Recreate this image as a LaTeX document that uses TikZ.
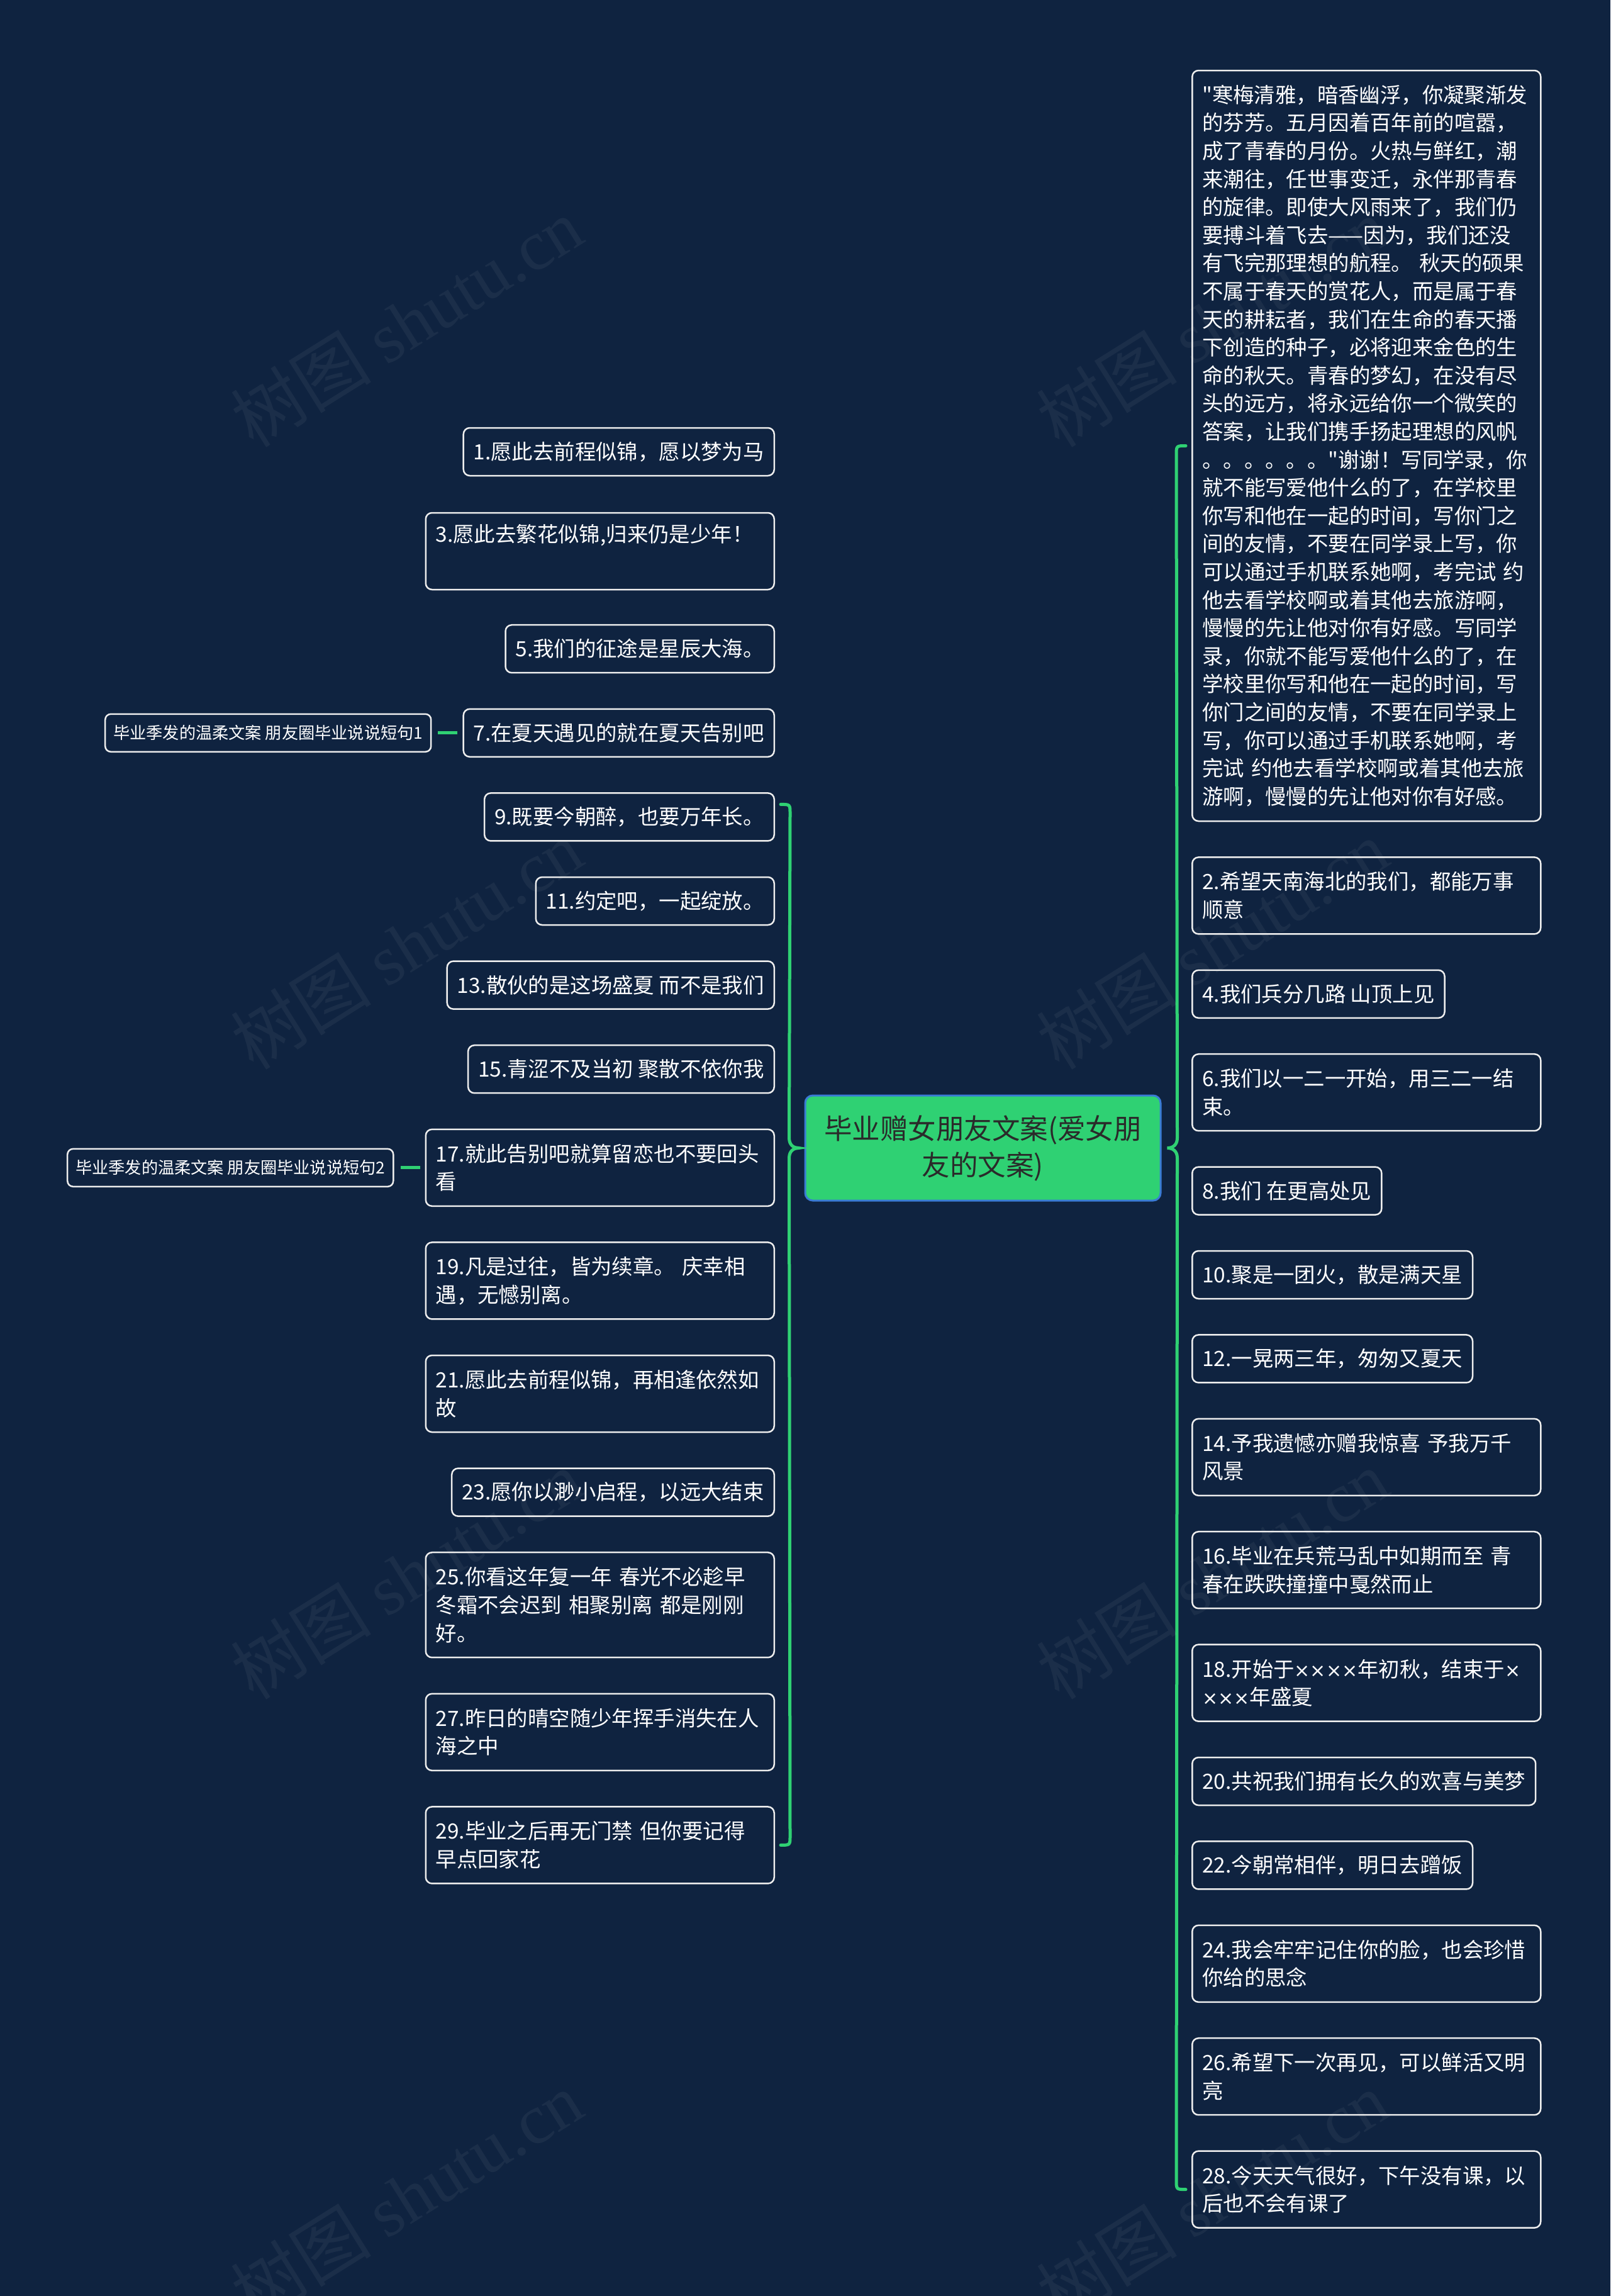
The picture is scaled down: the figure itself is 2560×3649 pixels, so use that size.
\documentclass[tikz,border=0pt]{standalone}
\usepackage{fontspec}
\newfontfamily\cjkfont{Noto Sans CJK SC}
\newfontfamily\wmserif{Liberation Serif}
\newfontfamily\dvsans{DejaVu Sans}
\newcommand{\tms}{{\dvsans\fontsize{30}{44.6}\selectfont ×}}
\usetikzlibrary{calc}
\definecolor{bg}{HTML}{0F2340}
\definecolor{boxc}{HTML}{EEEEEE}
\definecolor{lgreen}{HTML}{2FD173}
\definecolor{rootblue}{HTML}{3A7BD5}
\definecolor{roottext}{HTML}{2A2A2A}
\tikzset{
  bx/.style={draw=boxc, line width=2.5pt, rounded corners=10pt, fill=bg, text=white,
    font=\cjkfont\fontsize{33.4}{44.6}\selectfont, inner xsep=16pt, inner ysep=0pt,
    minimum height=76pt, align=left},
  bxtwo/.style={bx, text width=522pt, minimum height=122pt},
  bxthree/.style={bx, text width=522pt, minimum height=167pt},
  smallbox/.style={draw=boxc, line width=2.5pt, rounded corners=9pt, fill=bg, text=white,
    font=\cjkfont\fontsize{26.2}{32}\selectfont, inner xsep=13pt, inner ysep=0pt, minimum height=60pt},
  rootbox/.style={draw=rootblue, line width=3pt, rounded corners=12pt, fill=lgreen, text=roottext,
    font=\cjkfont\fontsize{44.5}{58}\selectfont, align=center, minimum width=565pt, minimum height=167pt,
    inner sep=0pt},
  brace/.style={draw=lgreen, line width=5pt, line cap=round},
  link/.style={draw=lgreen, line width=5pt, shorten <=10pt, shorten >=8pt},
  wm/.style={text=white, opacity=0.05, font=\cjkfont\fontsize{112}{112}\selectfont, rotate=32, inner sep=0pt}
}
\begin{document}
\begin{tikzpicture}[x=1pt, y=-1pt]
\useasboundingbox (0,0) rectangle (2560,3649);
\fill[bg] (0,0) rectangle (2560,3649);

% central node
\node[rootbox] (root) at (1562.5,1824.5) {毕业赠女朋友文案(爱女朋\\友的文案)};

% left nodes
\node[bx, anchor=east] (l1) at (1232,718) {1.愿此去前程似锦，愿以梦为马};
\node[bxtwo, anchor=east] (l3) at (1232,876) {3.愿此去繁花似锦,归来仍是少年！\\\strut};
\node[bx, anchor=east] (l5) at (1232,1031.2) {5.我们的征途是星辰大海。};
\node[bx, anchor=east] (l7) at (1232,1164.8) {7.在夏天遇见的就在夏天告别吧};
\node[bx, anchor=east] (l9) at (1232,1298.4) {9.既要今朝醉，也要万年长。};
\node[bx, anchor=east] (l11) at (1232,1432) {11.约定吧，一起绽放。};
\node[bx, anchor=east] (l13) at (1232,1565.6) {13.散伙的是这场盛夏 而不是我们};
\node[bx, anchor=east] (l15) at (1232,1699.2) {15.青涩不及当初 聚散不依你我};
\node[bxtwo, anchor=east] (l17) at (1232,1855.8) {17.就此告别吧就算留恋也不要回头\\看};
\node[bxtwo, anchor=east] (l19) at (1232,2035.4) {19.凡是过往，皆为续章。 庆幸相\\遇，无憾别离。};
\node[bxtwo, anchor=east] (l21) at (1232,2215) {21.愿此去前程似锦，再相逢依然如\\故};
\node[bx, anchor=east] (l23) at (1232,2371.6) {23.愿你以渺小启程，以远大结束};
\node[bxthree, anchor=east] (l25) at (1232,2550.7) {25.你看这年复一年 春光不必趁早\\冬霜不会迟到 相聚别离 都是刚刚\\好。};
\node[bxtwo, anchor=east] (l27) at (1232,2752.8) {27.昨日的晴空随少年挥手消失在人\\海之中};
\node[bxtwo, anchor=east] (l29) at (1232,2932.4) {29.毕业之后再无门禁 但你要记得\\早点回家花};

% small side nodes
\node[smallbox, anchor=east] (s1) at ([xshift=-49pt]l7.west) {毕业季发的温柔文案 朋友圈毕业说说短句1};
\node[smallbox, anchor=east] (s2) at ([xshift=-49pt]l17.west) {毕业季发的温柔文案 朋友圈毕业说说短句2};
\draw[link] (s1.east) -- (l7.west);
\draw[link] (s2.east) -- (l17.west);

% right nodes
\node[bx, anchor=west, text width=522pt, minimum height=1193pt] (long) at (1894,708.5) {"寒梅清雅，暗香幽浮，你凝聚渐发\\的芬芳。五月因着百年前的喧嚣，\\成了青春的月份。火热与鲜红，潮\\来潮往，任世事变迁，永伴那青春\\的旋律。即使大风雨来了，我们仍\\要搏斗着飞去——因为，我们还没\\有飞完那理想的航程。 秋天的硕果\\不属于春天的赏花人，而是属于春\\天的耕耘者，我们在生命的春天播\\下创造的种子，必将迎来金色的生\\命的秋天。青春的梦幻，在没有尽\\头的远方，将永远给你一个微笑的\\答案，让我们携手扬起理想的风帆\\。。。。。。"谢谢！写同学录，你\\就不能写爱他什么的了，在学校里\\你写和他在一起的时间，写你门之\\间的友情，不要在同学录上写，你\\可以通过手机联系她啊，考完试 约\\他去看学校啊或着其他去旅游啊，\\慢慢的先让他对你有好感。写同学\\录，你就不能写爱他什么的了，在\\学校里你写和他在一起的时间，写\\你门之间的友情，不要在同学录上\\写，你可以通过手机联系她啊，考\\完试 约他去看学校啊或着其他去旅\\游啊，慢慢的先让他对你有好感。};
\node[bxtwo, anchor=west] (r2) at (1894,1423.4) {2.希望天南海北的我们，都能万事\\顺意};
\node[bx, anchor=west] (r4) at (1894,1579.8) {4.我们兵分几路 山顶上见};
\node[bxtwo, anchor=west] (r6) at (1894,1736.2) {6.我们以一二一开始，用三二一结\\束。};
\node[bx, anchor=west] (r8) at (1894,1892.6) {8.我们 在更高处见};
\node[bx, anchor=west] (r10) at (1894,2026) {10.聚是一团火，散是满天星};
\node[bx, anchor=west] (r12) at (1894,2159.4) {12.一晃两三年，匆匆又夏天};
\node[bxtwo, anchor=west] (r14) at (1894,2315.8) {14.予我遗憾亦赠我惊喜 予我万千\\风景};
\node[bxtwo, anchor=west] (r16) at (1894,2495.2) {16.毕业在兵荒马乱中如期而至 青\\春在跌跌撞撞中戛然而止};
\node[bxtwo, anchor=west] (r18) at (1894,2674.6) {18.开始于\tms\tms\tms\tms 年初秋，结束于\tms\\\tms\tms\tms 年盛夏};
\node[bx, anchor=west] (r20) at (1894,2831) {20.共祝我们拥有长久的欢喜与美梦};
\node[bx, anchor=west] (r22) at (1894,2964.4) {22.今朝常相伴，明日去蹭饭};
\node[bxtwo, anchor=west] (r24) at (1894,3120.8) {24.我会牢牢记住你的脸，也会珍惜\\你给的思念};
\node[bxtwo, anchor=west] (r26) at (1894,3300.2) {26.希望下一次再见，可以鲜活又明\\亮};
\node[bxtwo, anchor=west] (r28) at (1894,3479.6) {28.今天天气很好，下午没有课，以\\后也不会有课了};

% braces
\coordinate (ltop) at ([xshift=9pt,yshift=20pt]l9.east);
\coordinate (lbot) at ([xshift=9pt]l29.east);
\coordinate (ltip) at ([xshift=-9pt]root.west);
\coordinate (rtop) at ([xshift=-9pt]long.west);
\coordinate (rbot) at ([xshift=-9pt]r28.west);
\coordinate (rtip) at ([xshift=9pt]root.east);

\draw[brace] (ltop) .. controls ($(ltop)+(15,0)$) .. ($(ltop)+(15,15)$)
  -- ($(ltip)+(-15,-16)$)
  .. controls ($(ltip)+(-15,-4)$) and ($(ltip)+(-7,0)$) .. (ltip)
  .. controls ($(ltip)+(-7,0)$) and ($(ltip)+(-15,4)$) .. ($(ltip)+(-15,16)$)
  -- ($(lbot)+(15,-15)$)
  .. controls ($(lbot)+(15,0)$) .. (lbot);

\draw[brace] (rtop) .. controls ($(rtop)+(-15,0)$) .. ($(rtop)+(-15,15)$)
  -- ($(rtip)+(16,-16)$)
  .. controls ($(rtip)+(16,-4)$) and ($(rtip)+(8,0)$) .. (rtip)
  .. controls ($(rtip)+(8,0)$) and ($(rtip)+(16,4)$) .. ($(rtip)+(16,16)$)
  -- ($(rbot)+(-15,-15)$)
  .. controls ($(rbot)+(-15,0)$) .. (rbot);

% watermarks
\foreach \wx in {646,1927} {
  \foreach \wy in {512,1501,2502,3490} {
    \node[wm] (wm-\wx-\wy) at (\wx,\wy) {树图 {\wmserif shutu.cn}};
  }
}
\end{tikzpicture}
\end{document}
